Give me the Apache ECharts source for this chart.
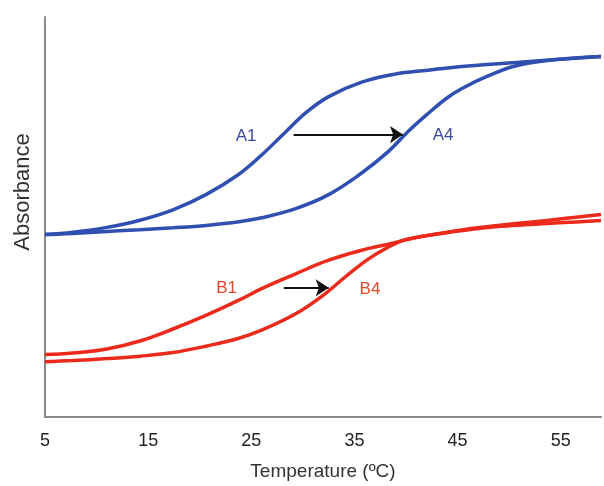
<!DOCTYPE html>
<html><head><meta charset="utf-8">
<script src="https://cdn.jsdelivr.net/npm/echarts@6/dist/echarts.min.js"></script>
<style>html,body{margin:0;padding:0;background:#fff}#c{width:604px;height:486px}</style>
</head><body><div id="c"></div>
<script>
// Temperature (ºC) and relative absorbance
const a1T = [5, 7.7, 11.0, 14.2, 17.4, 20.6, 23.8, 26.0, 28.3, 30.3, 32.5, 35.7, 38.9, 42.1, 45.7, 52.0, 58.9];
const a1V = [0.456, 0.462, 0.474, 0.492, 0.518, 0.556, 0.607, 0.655, 0.712, 0.761, 0.801, 0.837, 0.857, 0.867, 0.877, 0.889, 0.901];
const a4T = [5, 7.7, 11.0, 14.2, 17.4, 20.6, 23.8, 26.0, 29.3, 32.5, 35.7, 38.3, 40.2, 42.1, 44.1, 45.7, 47.9, 50.5, 53.7, 58.9];
const a4V = [0.456, 0.459, 0.464, 0.468, 0.473, 0.479, 0.488, 0.498, 0.521, 0.556, 0.610, 0.664, 0.714, 0.758, 0.800, 0.825, 0.852, 0.877, 0.891, 0.901];
const b1T = [5, 7.7, 11.0, 14.2, 17.4, 20.6, 23.8, 26.0, 29.3, 32.5, 35.7, 38.3, 40.2, 42.1, 45.7, 48.9, 52.0, 55.3, 58.9];
const b1V = [0.156, 0.160, 0.170, 0.190, 0.220, 0.254, 0.292, 0.321, 0.358, 0.392, 0.417, 0.432, 0.444, 0.454, 0.469, 0.479, 0.487, 0.496, 0.506];
const b4T = [5, 7.7, 11.0, 14.2, 17.4, 20.6, 23.8, 26.0, 29.3, 31.8, 34.1, 36.3, 38.3, 39.9, 42.1, 45.7, 48.9, 52.0, 55.3, 58.9];
const b4V = [0.138, 0.141, 0.146, 0.152, 0.161, 0.177, 0.197, 0.217, 0.258, 0.301, 0.350, 0.394, 0.425, 0.443, 0.454, 0.467, 0.476, 0.481, 0.486, 0.491];
const xTicks = [5, 15, 25, 35, 45, 55];
// curve labels and shift arrows (data coordinates)
const curveLabels = [
  {name: 'A1', x: 24.5, y: 0.701, color: '#3c4a9e'},
  {name: 'A4', x: 43.6, y: 0.703, color: '#3c4a9e'},
  {name: 'B1', x: 22.6, y: 0.321, color: '#e2482c'},
  {name: 'B4', x: 36.5, y: 0.319, color: '#e2482c'}
];
const arrows = [
  {from: [29.1, 0.706], to: [39.7, 0.706]},
  {from: [28.15, 0.323], to: [32.5, 0.323]}
];

const zip = (t, v) => t.map((x, i) => [x, v[i]]);
const blue = '#2f4fb1', red = '#ec2a1c';
const lineS = (name, t, v, c) => ({
  name, type: 'line', data: zip(t, v), smooth: 0.4, showSymbol: false,
  lineStyle: {color: c, width: 3.5}, itemStyle: {color: c}, z: 2
});

const chart = echarts.init(document.getElementById('c'), null, {renderer: 'canvas'});
chart.setOption({
  animation: false,
  backgroundColor: '#ffffff',
  grid: {left: 45, top: 17, right: 0, bottom: 64, containLabel: false},
  xAxis: {
    type: 'value', min: 5, max: 58.9, interval: 10,
    name: 'Temperature (ºC)', nameLocation: 'middle', nameGap: 45,
    nameTextStyle: {fontFamily: 'Liberation Sans', fontSize: 19, color: '#333'},
    axisLine: {show: true, lineStyle: {color: '#8a8a8a', width: 2}},
    axisTick: {show: false}, splitLine: {show: false},
    axisLabel: {
      margin: 15, fontFamily: 'Liberation Sans', fontSize: 18, color: '#222',
      formatter: v => xTicks.includes(Math.round(v * 100) / 100) ? String(v) : ''
    }
  },
  yAxis: {
    type: 'value', min: 0, max: 1,
    axisLine: {show: true, lineStyle: {color: '#8a8a8a', width: 2}},
    axisTick: {show: false}, axisLabel: {show: false}, splitLine: {show: false}
  },
  graphic: [{
    type: 'text', x: 23, y: 192, rotation: Math.PI / 2,
    style: {text: 'Absorbance', font: '22px "Liberation Sans"', fill: '#333',
            textAlign: 'center', textVerticalAlign: 'middle'}
  }],
  series: [
    lineS('A1', a1T, a1V, blue),
    lineS('A4', a4T, a4V, blue),
    lineS('B1', b1T, b1V, red),
    lineS('B4', b4T, b4V, red),
    {
      type: 'line', data: [], silent: true,
      markLine: {
        silent: true, symbol: ['none', 'arrow'], symbolSize: 13,
        lineStyle: {color: '#111', width: 2, type: 'solid'},
        label: {show: false},
        data: arrows.map(a => [{coord: a.from}, {coord: a.to}])
      },
      markPoint: {
        silent: true, symbol: 'circle', symbolSize: 0,
        data: curveLabels.map(l => ({
          coord: [l.x, l.y],
          label: {show: true, formatter: l.name, position: 'inside', color: l.color,
                  fontFamily: 'Liberation Sans', fontSize: 17}
        }))
      }
    }
  ]
});
</script></body></html>
